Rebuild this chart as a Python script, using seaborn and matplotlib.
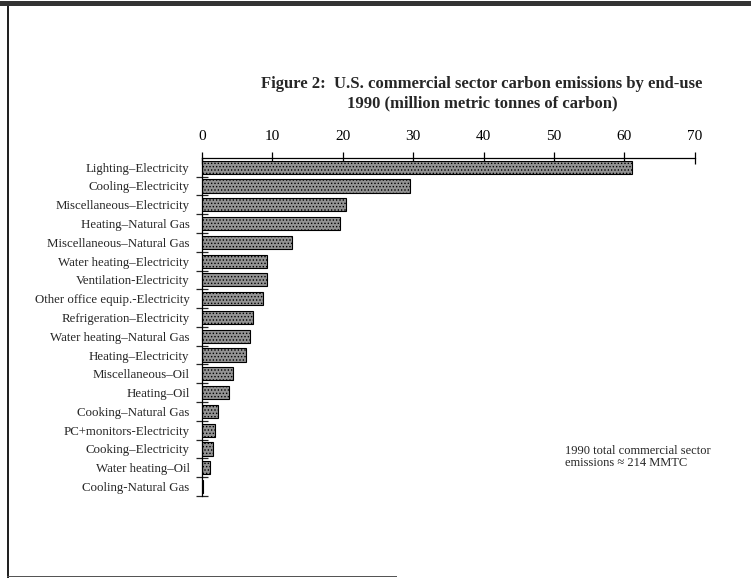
import matplotlib
matplotlib.use("Agg")
import matplotlib.pyplot as plt
import seaborn as sns
import numpy as np
import pandas as pd
from matplotlib.patches import Rectangle
from matplotlib.ticker import FixedLocator

end_uses = [
    "Lighting\u2013Electricity",
    "Cooling\u2013Electricity",
    "Miscellaneous\u2013Electricity",
    "Heating\u2013Natural Gas",
    "Miscellaneous\u2013Natural Gas",
    "Water heating\u2013Electricity",
    "Ventilation-Electricity",
    "Other office equip.-Electricity",
    "Refrigeration\u2013Electricity",
    "Water heating\u2013Natural Gas",
    "Heating\u2013Electricity",
    "Miscellaneous\u2013Oil",
    "Heating\u2013Oil",
    "Cooking\u2013Natural Gas",
    "PC+monitors-Electricity",
    "Cooking\u2013Electricity",
    "Water heating\u2013Oil",
    "Cooling-Natural Gas",
]
emissions = [61.1, 29.5, 20.5, 19.6, 12.8, 9.25, 9.25, 8.7, 7.2,
             6.8, 6.3, 4.4, 3.9, 2.3, 1.9, 1.5, 1.2, 0.2]
x_ticks = [0, 10, 20, 30, 40, 50, 60, 70]

df = pd.DataFrame({"end_use": end_uses, "mmtc": emissions})

sns.set_theme(style="white")
plt.rcParams['font.family'] = ['Liberation Serif', 'DejaVu Serif']
plt.rcParams['hatch.color'] = '#404040'
plt.rcParams['hatch.linewidth'] = 0.6

fig = plt.figure(figsize=(7.51, 5.78), dpi=100)
ax = fig.add_axes([0.269, 0.142, 0.656, 0.585])

sns.barplot(data=df, x="mmtc", y="end_use", orient="h", ax=ax,
            color="#939393", edgecolor="black", linewidth=0.8,
            width=0.7, saturation=1)
for bar in ax.patches:
    bar.set_hatch('.....')

ax.set_xlim(0, 70)
ax.set_ylim(len(end_uses) - 0.5, -0.5)
ax.xaxis.tick_top()
ax.set_xticks(x_ticks)
ax.set_xlabel("")
ax.set_ylabel("")
ax.tick_params(axis='x', direction='inout', length=9, width=0.9,
               labelsize=11, pad=6, colors='black')
ax.tick_params(axis='y', which='major', length=0, labelsize=9.3, pad=9)
ax.yaxis.set_minor_locator(FixedLocator(np.arange(0.5, len(end_uses), 1.0)))
ax.tick_params(axis='y', which='minor', direction='inout', length=9,
               width=0.9, left=True)
for s in ["right", "bottom"]:
    ax.spines[s].set_visible(False)
for s in ["top", "left"]:
    ax.spines[s].set_color("black")
    ax.spines[s].set_linewidth(0.9)

fig.text(0.642, 0.838,
         "Figure 2:  U.S. commercial sector carbon emissions by end-use\n"
         "1990 (million metric tonnes of carbon)",
         ha="center", va="center", fontsize=12, fontweight="bold",
         linespacing=1.3)

fig.text(0.752, 0.209, "1990 total commercial sector\nemissions \u2248 214 MMTC",
         ha="left", va="center", fontsize=9, linespacing=1.0)

# page frame
fig.patches.append(Rectangle((0, 0.990), 1, 0.008, transform=fig.transFigure,
                             facecolor="#333333", edgecolor="none"))
fig.patches.append(Rectangle((0.009, 0.0), 0.003, 0.99, transform=fig.transFigure,
                             facecolor="#222222", edgecolor="none"))
fig.patches.append(Rectangle((0.009, 0.002), 0.52, 0.002, transform=fig.transFigure,
                             facecolor="#555555", edgecolor="none"))

fig.savefig("out.png", dpi=100)
